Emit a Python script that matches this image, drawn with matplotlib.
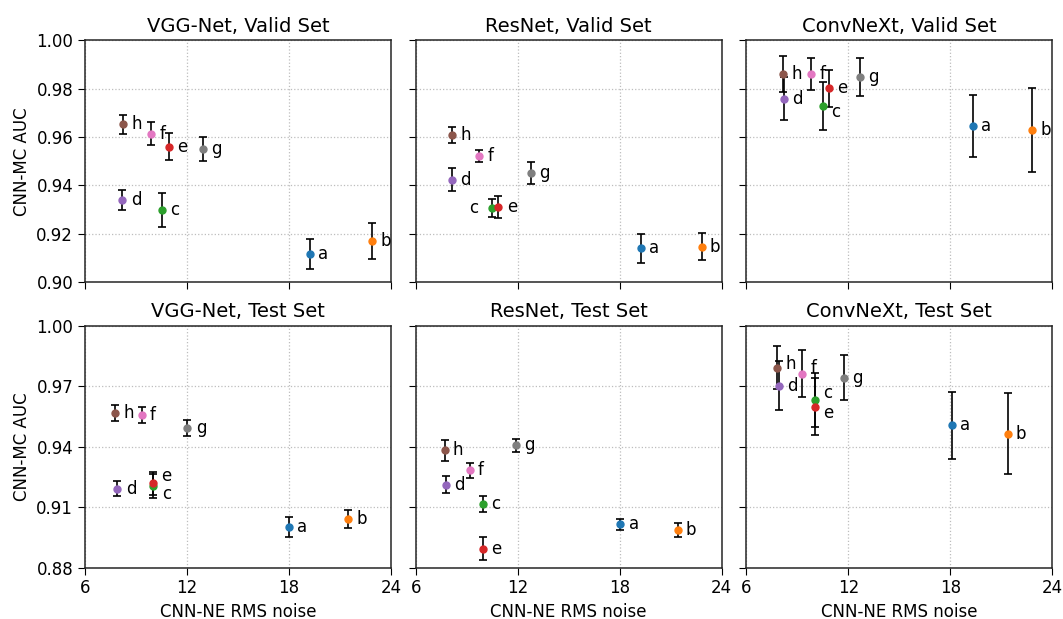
import numpy as np
import matplotlib
matplotlib.use('Agg')
import matplotlib.pyplot as plt

names = ['a', 'b', 'c', 'd', 'e', 'f', 'g', 'h']
colors = ['C0', 'C1', 'C2', 'C4', 'C3', 'C6', 'C7', 'C5']

# x = CNN-NE RMS noise, y = CNN-MC AUC, err = error bar half width
vgg_valid_x = [19.22, 22.88, 10.51, 8.20, 10.94, 9.88, 12.92, 8.24]
vgg_valid_y = [0.9118, 0.9171, 0.9299, 0.9339, 0.9560, 0.9614, 0.9552, 0.9653]
vgg_valid_err = [0.0062, 0.0075, 0.0069, 0.0042, 0.0057, 0.0048, 0.0050, 0.0040]

res_valid_x = [19.25, 22.81, 10.48, 8.13, 10.87, 9.73, 12.80, 8.15]
res_valid_y = [0.9140, 0.9147, 0.9306, 0.9423, 0.9311, 0.9521, 0.9451, 0.9609]
res_valid_err = [0.0061, 0.0056, 0.0037, 0.0048, 0.0047, 0.0024, 0.0045, 0.0034]

cnx_valid_x = [19.33, 22.80, 10.49, 8.20, 10.88, 9.82, 12.69, 8.18]
cnx_valid_y = [0.9647, 0.9630, 0.9727, 0.9759, 0.9801, 0.9859, 0.9847, 0.9860]
cnx_valid_err = [0.0128, 0.0174, 0.0099, 0.0090, 0.0077, 0.0066, 0.0079, 0.0075]

vgg_test_x = [17.98, 21.45, 10.02, 7.90, 9.98, 9.32, 12.02, 7.76]
vgg_test_y = [0.9002, 0.9043, 0.9203, 0.9192, 0.9218, 0.9557, 0.9493, 0.9569]
vgg_test_err = [0.0050, 0.0044, 0.0060, 0.0038, 0.0056, 0.0040, 0.0040, 0.0040]

res_test_x = [18.04, 21.40, 9.97, 7.80, 9.95, 9.18, 11.88, 7.70]
res_test_y = [0.9014, 0.8986, 0.9114, 0.9211, 0.8894, 0.9282, 0.9406, 0.9381]
res_test_err = [0.0029, 0.0035, 0.0040, 0.0042, 0.0057, 0.0037, 0.0032, 0.0050]

cnx_test_x = [18.08, 21.37, 10.02, 7.90, 10.02, 9.27, 11.75, 7.80]
cnx_test_y = [0.9506, 0.9463, 0.9630, 0.9702, 0.9599, 0.9761, 0.9743, 0.9791]
cnx_test_err = [0.0165, 0.0201, 0.0134, 0.0122, 0.0142, 0.0116, 0.0110, 0.0106]

titles = ['VGG-Net, Valid Set', 'ResNet, Valid Set', 'ConvNeXt, Valid Set',
          'VGG-Net, Test Set', 'ResNet, Test Set', 'ConvNeXt, Test Set']
panels = [(vgg_valid_x, vgg_valid_y, vgg_valid_err),
          (res_valid_x, res_valid_y, res_valid_err),
          (cnx_valid_x, cnx_valid_y, cnx_valid_err),
          (vgg_test_x, vgg_test_y, vgg_test_err),
          (res_test_x, res_test_y, res_test_err),
          (cnx_test_x, cnx_test_y, cnx_test_err)]

# label nudges (points) where the labels would collide
nudge = {(1, 'c'): (-16, 0), (2, 'c'): (6, -4), (3, 'e'): (6, 5.5), (3, 'c'): (6, -5.5),
         (5, 'h'): (6, 3), (5, 'f'): (6, 4), (5, 'c'): (6, 5), (5, 'e'): (6, -5)}

fig, axes = plt.subplots(2, 3, figsize=(10.63, 6.19), dpi=100, sharex=True)
fig.subplots_adjust(left=0.08, right=0.99, top=0.935, bottom=0.083,
                    wspace=0.08, hspace=0.18)

for i, ax in enumerate(axes.flat):
    xs, ys, es = panels[i]
    for n, c, x, y, e in zip(names, colors, xs, ys, es):
        ax.errorbar(x, y, yerr=e, fmt='o', color=c, ecolor='k', markersize=5,
                    elinewidth=1.2, capsize=3, capthick=1.2, zorder=3)
        dx, dy = nudge.get((i, n), (6, 0))
        ax.annotate(n, (x, y), xytext=(dx, dy), textcoords='offset points',
                    va='center', ha='left', fontsize=12)
    ax.set_title(titles[i], fontsize=14)
    ax.set_xlim(6, 24)
    ax.set_xticks([6, 12, 18, 24])
    ax.grid(True, linestyle=':', color='#bdbdbd', linewidth=0.9)
    ax.tick_params(labelsize=12, length=5)
    for s in ax.spines.values():
        s.set_color('#262626')
        s.set_linewidth(1.1)
    if i < 3:
        ax.set_ylim(0.90, 1.00)
        ax.set_yticks([0.90, 0.92, 0.94, 0.96, 0.98, 1.00])
    else:
        ax.set_ylim(0.88, 1.00)
        ax.set_yticks([0.88, 0.91, 0.94, 0.97, 1.00])
        ax.set_xlabel('CNN-NE RMS noise', fontsize=12)
    if i % 3 == 0:
        ax.set_ylabel('CNN-MC AUC', fontsize=12)
        ax.yaxis.set_major_formatter(matplotlib.ticker.FormatStrFormatter('%.2f'))
    else:
        ax.tick_params(labelleft=False)

fig.savefig('out.png', dpi=100)
